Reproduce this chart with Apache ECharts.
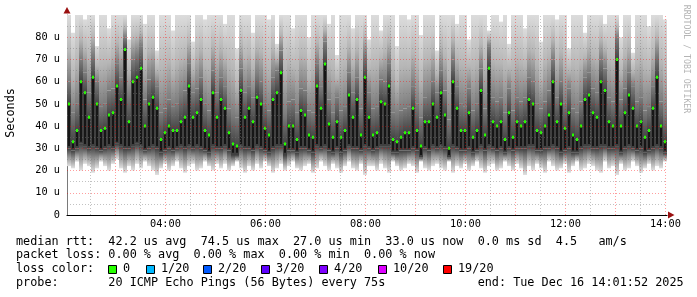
<!DOCTYPE html>
<html>
<head>
<meta charset="utf-8">
<script src="https://cdn.jsdelivr.net/npm/echarts@6/dist/echarts.min.js"></script>
<style>
html,body{margin:0;padding:0;background:#fff;}
#chart{width:697px;height:297px;}
</style>
</head>
<body>
<div id="chart"></div>
<script>
// ---- time range (hours of day) ----
const startHour = 2 + 1/60 + 52/3600;   // 02:01:52
const endHour = 14 + 1/60 + 52/3600;    // 14:01:52
const stepHours = 0.08;                  // one smoke column

// ---- median RTT per column (microseconds) ----
const medianRtt = [
 50,33,38,60,55,44,62,50,38,39,45,46,58,52,74.5,42,60,62,66,40,50,53,48,34,37,40,38,38,42,44,58,44,46,52,38,36,55,44,
 52,48,37,32,31,56,44,48,42,53,50,39,36,52,55,64,32,40,40,34,47,45,36,35,58,48,68,41,35,42,35,38,54,44,52,36,62,44,
 36,37,51,50,58,34,33,35,37,37,48,38,31,42,42,50,44,55,45,30,60,48,38,38,46,35,38,56,36,66,42,40,42,34,46,35,42,
 40,42,52,50,38,37,40,45,60,42,50,39,46,36,34,40,52,54,46,44,60,56,42,40,70,40,46,54,48,40,42,35,38,48,62,40,33
];
// ---- smoke extents per column ----
const smokeLow = [
 22,21,24,20,23,22,19,21,24,22,20,23,25,21,19,22,20,23,21,24,22,20,18,21,23,20,22,24,21,19,22,23,20,21,24,22,20,23,
 21,23,20,22,24,21,19,22,20,23,21,24,22,19,21,23,20,22,24,21,20,22,23,19,21,24,22,20,23,21,19,22,24,21,20,23,18,22,
 22,20,23,21,19,24,22,20,21,23,22,19,24,21,20,22,23,21,20,24,19,22,21,23,20,22,24,21,19,22,23,20,21,24,22,20,23,
 21,18,22,20,23,21,19,24,22,20,21,23,19,22,24,20,21,23,22,20,19,24,21,22,18,23,20,21,24,22,19,21,23,20,22,21,24
];
const smokeQ1 = [
 30,29,30,32,31,30,31,30,29,30,31,30,32,31,30,30,31,32,31,29,30,31,30,28,29,30,29,30,31,30,31,30,31,30,29,28,31,30,
 30,31,29,27,27,31,30,30,29,31,30,29,28,30,31,31,27,29,29,28,30,30,29,28,31,30,31,29,28,30,28,29,31,30,30,29,31,30,
 29,30,31,31,31,28,28,29,29,29,30,29,26,30,29,31,30,31,30,26,31,30,29,29,30,28,29,31,29,31,30,29,30,28,30,29,30,
 30,30,31,31,29,29,30,30,31,30,28,29,30,28,28,30,31,31,30,30,31,31,30,30,31,28,30,31,30,29,30,28,29,30,31,30,28
];
const smokeQ3 = [
 60,46,50,70,64,55,72,60,49,50,56,57,68,62,80,54,70,72,76,52,61,63,58,46,48,52,49,50,54,56,68,55,57,62,50,47,65,55,
 62,58,48,45,44,66,55,58,53,63,60,50,47,62,65,74,45,51,52,46,57,56,47,46,68,58,78,52,46,53,47,49,64,55,62,48,72,55,
 48,49,61,60,68,46,45,47,48,49,58,50,44,53,54,60,55,65,56,43,70,58,50,49,57,47,50,66,48,76,53,51,53,46,57,47,53,
 51,53,62,60,50,48,51,56,70,53,60,50,57,48,46,51,62,64,57,55,70,66,53,51,80,52,57,64,58,51,53,47,49,58,72,51,45
];
const smokeHigh = [
 95,82,95,95,88,95,95,76,95,95,84,95,95,95,95,79,95,95,95,86,95,95,74,95,95,95,83,95,95,95,95,78,95,95,88,95,95,95,
 95,86,95,95,75,95,95,95,82,95,95,95,88,95,77,95,95,95,84,95,95,95,80,95,95,95,95,86,95,72,95,95,95,84,95,95,95,79,
 95,95,83,95,95,95,76,95,95,88,95,95,81,95,95,95,74,95,95,95,95,86,95,95,79,95,95,95,95,83,95,95,87,95,77,95,95,
 95,84,95,95,95,78,95,95,95,88,95,95,75,95,95,95,82,95,95,95,95,86,95,95,95,80,95,95,73,95,95,95,85,95,95,92,88
];

// ---- axes / grid ----
const xLabelHours = [4, 6, 8, 10, 12, 14];
const xMajorGrid = [3,4,5,6,7,8,9,10,11,12,13,14];
const xMinorGrid = [2.5,3.5,4.5,5.5,6.5,7.5,8.5,9.5,10.5,11.5,12.5,13.5];
const yMajorGrid = [10,20,30,40,50,60,70,80];
const yMinorGrid = [5,15,25,35,45,55,65,75,85];

// ---- legend texts ----
const legendLine1 = 'median rtt:  42.2 us avg  74.5 us max  27.0 us min  33.0 us now  0.0 ms sd  4.5   am/s';
const legendLine2 = 'packet loss: 0.00 % avg  0.00 % max  0.00 % min  0.00 % now';
const legendLine3 = 'loss color:';
const lossLabels = ['0', '1/20', '2/20', '3/20', '4/20', '10/20', '19/20'];
const lossColors = ['#26ff00', '#00b8ff', '#0059ff', '#5e00ff', '#7e00ff', '#dd00ff', '#ff0000'];
const legendProbe = 'probe:       20 ICMP Echo Pings (56 Bytes) every 75s             end: Tue Dec 16 14:01:52 2025';

const rows = medianRtt.map((m, i) => [startHour + i * stepHours, smokeLow[i], smokeQ1[i], m, smokeQ3[i], smokeHigh[i]]);

const MONO = '"DejaVu Sans Mono", monospace';
const chart = echarts.init(document.getElementById('chart'), null, {renderer: 'canvas'});

const LG = echarts.graphic.LinearGradient;
const gradTop = () => new LG(0, 0, 0, 1, [
  {offset: 0, color: '#dcdcdc'}, {offset: 0.55, color: '#b6b6b6'}, {offset: 1, color: '#7c7c7c'}]);
const gradUpperCore = () => new LG(0, 0, 0, 1, [
  {offset: 0, color: '#7c7c7c'}, {offset: 1, color: '#444444'}]);
const gradBottom = () => new LG(0, 0, 0, 1, [
  {offset: 0, color: '#404040'}, {offset: 0.45, color: '#8e8e8e'}, {offset: 1, color: '#e0e0e0'}]);

function renderSmoke(params, api) {
  const t = api.value(0);
  const lo = api.value(1), q1 = api.value(2), md = api.value(3), q3 = api.value(4);
  const hi = Math.min(api.value(5), 90);
  const a = api.coord([t, lo]), b = api.coord([t + stepHours, lo]);
  const x0 = a[0], w = b[0] - a[0];
  const y = v => api.coord([t, v])[1];
  return {
    type: 'group',
    children: [
      {type: 'rect', shape: {x: x0, y: y(q1), width: w, height: y(lo) - y(q1)}, style: {fill: gradBottom()}},
      {type: 'rect', shape: {x: x0, y: y(md), width: w, height: y(q1) - y(md)}, style: {fill: '#404040'}},
      {type: 'rect', shape: {x: x0, y: y(q3), width: w, height: y(md) - y(q3)}, style: {fill: gradUpperCore()}},
      {type: 'rect', shape: {x: x0, y: y(hi), width: w, height: y(q3) - y(hi)}, style: {fill: gradTop()}},
      {type: 'rect', shape: {x: x0 + 1, y: y(md), width: 2, height: y(q1 + 1) - y(md)}, style: {fill: '#161616'}}
    ]
  };
}
function renderMedian(params, api) {
  const t = api.value(0), md = api.value(3);
  const p = api.coord([t + stepHours / 2, md]);
  return {type: 'rect', shape: {x: Math.round(p[0]) - 1, y: p[1] - 1.5, width: 2, height: 3}, style: {fill: lossColors[0]}};
}

const redGrid = {color: 'rgba(255,0,0,0.38)', type: [1, 2], width: 1};
const grayGrid = {color: 'rgba(120,120,120,0.45)', type: [1, 2], width: 1};
const gridLines = []
  .concat(xMinorGrid.map(v => ({xAxis: v, lineStyle: grayGrid})))
  .concat(yMinorGrid.map(v => ({yAxis: v, lineStyle: grayGrid})))
  .concat(xMajorGrid.map(v => ({xAxis: v, lineStyle: redGrid})))
  .concat(yMajorGrid.map(v => ({yAxis: v, lineStyle: redGrid})));

const graphics = [
  {type: 'text', x: 11, y: 113, rotation: Math.PI / 2,
   style: {text: 'Seconds', font: '11.8px ' + MONO, fill: '#000', align: 'center', verticalAlign: 'middle'}},
  {type: 'text', x: 686, y: 59, rotation: -Math.PI / 2,
   style: {text: 'RRDTOOL / TOBI OETIKER', font: '8.2px ' + MONO, fill: '#b4b4b4', align: 'center', verticalAlign: 'middle'}},
  {type: 'polygon', shape: {points: [[63.5, 13.5], [67, 7], [70.5, 13.5]]}, style: {fill: '#9a1010'}},
  {type: 'polygon', shape: {points: [[668, 211.5], [674.5, 215], [668, 218.5]]}, style: {fill: '#9a1010'}},
  {type: 'text', x: 16, y: 241.5, style: {text: legendLine1, font: '11.8px ' + MONO, fill: '#000', verticalAlign: 'middle'}},
  {type: 'text', x: 16, y: 255.3, style: {text: legendLine2, font: '11.8px ' + MONO, fill: '#000', verticalAlign: 'middle'}},
  {type: 'text', x: 16, y: 269.1, style: {text: legendLine3, font: '11.8px ' + MONO, fill: '#000', verticalAlign: 'middle'}},
  {type: 'text', x: 16, y: 282.9, style: {text: legendProbe, font: '11.8px ' + MONO, fill: '#000', verticalAlign: 'middle'}}
];
const boxX = [108, 146, 203, 261, 319, 378, 443];
lossLabels.forEach((lab, i) => {
  graphics.push({type: 'rect', shape: {x: boxX[i] + 0.5, y: 265.5, width: 8, height: 8},
    style: {fill: lossColors[i], stroke: '#000', lineWidth: 1}});
  graphics.push({type: 'text', x: boxX[i] + 15, y: 269.1,
    style: {text: lab, font: '11.8px ' + MONO, fill: '#000', verticalAlign: 'middle'}});
});

chart.setOption({
  animation: false,
  backgroundColor: '#ffffff',
  grid: {left: 67, right: 30, top: 15, bottom: 82},
  xAxis: {
    type: 'value', min: startHour, max: endHour,
    axisLine: {show: true, onZero: false, lineStyle: {color: '#000', width: 1.2}},
    axisTick: {show: false},
    splitLine: {show: false},
    axisLabel: {
      customValues: xLabelHours, margin: 4,
      formatter: v => (v < 10 ? '0' : '') + Math.round(v) + ':00',
      fontFamily: 'DejaVu Sans Mono', fontSize: 10.3, color: '#000'
    }
  },
  yAxis: {
    type: 'value', min: 0, max: 90, interval: 10,
    axisLine: {show: true, lineStyle: {color: '#7a7a7a', width: 1}},
    axisTick: {show: false},
    splitLine: {show: false},
    axisLabel: {
      margin: 7, fontFamily: 'DejaVu Sans Mono', fontSize: 10.3, color: '#000',
      formatter: v => v === 0 ? '0' : (v >= 90 ? '' : v + ' u')
    }
  },
  series: [
    {type: 'custom', name: 'smoke', z: 2, data: rows, renderItem: renderSmoke, encode: {x: 0, y: [1, 5]}, silent: true},
    {type: 'line', name: 'grid', z: 3, data: [[startHour, -10]], showSymbol: false, lineStyle: {opacity: 0}, silent: true,
     markLine: {silent: true, symbol: ['none', 'none'], label: {show: false}, animation: false, data: gridLines}},
    {type: 'custom', name: 'median', z: 4, data: rows, renderItem: renderMedian, encode: {x: 0, y: 3}, silent: true}
  ],
  graphic: graphics
});
</script>
</body>
</html>
